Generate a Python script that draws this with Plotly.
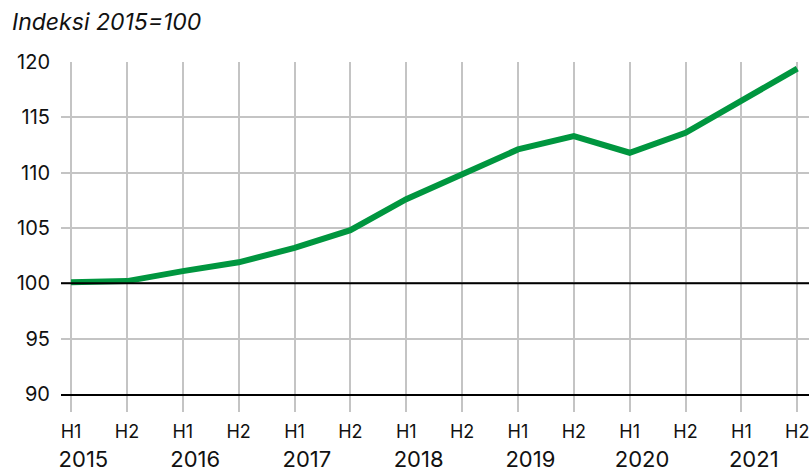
import plotly.graph_objects as go

halves = ["H1", "H2"] * 7
years = ["2015", "2016", "2017", "2018", "2019", "2020", "2021"]
values = [100.1, 100.2, 101.1, 101.9, 103.2, 104.8, 107.6,
          109.9, 112.1, 113.3, 111.8, 113.6, 116.5, 119.4]

pos = list(range(len(values)))
labels = []
for i, h in enumerate(halves):
    # year sits a little right of the H1 label, as in the original
    yr = "&nbsp;" * 4 + years[i // 2] if h == "H1" else "&nbsp;"
    labels.append(f"<span style='font-size:18px'>{h}</span><br>{yr}")

grid = "#c4c4c4"

fig = go.Figure()
fig.add_trace(go.Scatter(x=pos, y=values, mode="lines",
                         line=dict(color="#00963f", width=6),
                         hoverinfo="skip"))

# black reference line at 100
fig.add_hline(y=100, line=dict(color="black", width=2), layer="above")

fig.update_layout(
    width=809, height=471,
    margin=dict(l=61, r=0, t=62, b=77),
    plot_bgcolor="white", paper_bgcolor="white",
    font=dict(family="Inter, Liberation Sans, Arial", size=18, color="#111"),
    showlegend=False,
    title=dict(text="<i>Indeksi 2015=100</i>", x=12 / 809, xanchor="left",
               y=1 - 22 / 471, yanchor="middle",
               font=dict(size=23, color="#111")),
)
fig.update_xaxes(
    range=[-0.18, 13.21], tickvals=pos, ticktext=labels,
    showgrid=True, gridcolor=grid, gridwidth=1.5,
    ticks="outside", ticklen=16, tickcolor=grid, tickwidth=1.5,
    zeroline=False, showline=True, linecolor="black", linewidth=2,
    tickangle=0, automargin=False, tickfont=dict(size=22),
    ticklabeloverflow="allow",
)
fig.update_yaxes(
    range=[90, 120], dtick=5, tick0=90,
    showgrid=True, gridcolor=grid, gridwidth=1.5,
    ticks="outside", ticklen=6, tickcolor="rgba(0,0,0,0)",
    zeroline=False, showline=False, automargin=False,
    tickfont=dict(size=20),
)

fig.write_html("out.html", config={"displayModeBar": False},
               post_script="document.body.style.margin='0';")
